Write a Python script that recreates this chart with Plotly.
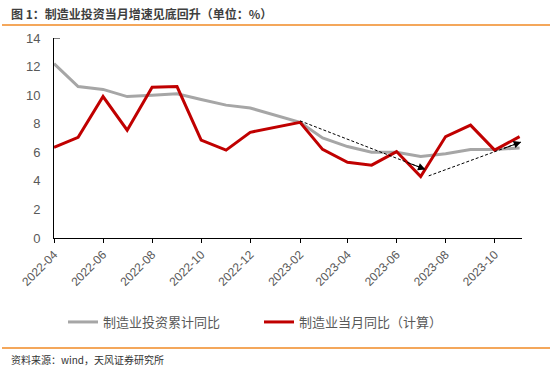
import plotly.graph_objects as go

months = ["2022-04", "2022-05", "2022-06", "2022-07", "2022-08", "2022-09",
          "2022-10", "2022-11", "2022-12", "2023-02", "2023-03", "2023-04",
          "2023-05", "2023-06", "2023-07", "2023-08", "2023-09", "2023-10", "2023-11"]
cum_yoy = [12.2, 10.6, 10.4, 9.9, 10.0, 10.1, 9.7, 9.3, 9.1, 8.1, 7.0, 6.4,
           6.0, 6.0, 5.7, 5.9, 6.2, 6.2, 6.3]
month_yoy = [6.35, 7.05, 9.9, 7.55, 10.55, 10.6, 6.85, 6.15, 7.4, 8.1, 6.2, 5.3,
             5.1, 6.05, 4.3, 7.1, 7.9, 6.15, 7.1]
name_cum = "制造业投资累计同比"
name_month = "制造业当月同比（计算）"
title_text = "图 1：制造业投资当月增速见底回升（单位：%）"
source_text = "资料来源：wind，天风证券研究所"

# trend arrows (start, end) in data coordinates
arrow_lines = [
    (("2023-02-01", 8.2), ("2023-07-07", 4.8)),
    (("2023-07-11", 4.35), ("2023-11-03", 6.72)),
]

W, H = 552, 368
L, R, T, B = 54, 30, 38, 130
PW, PH = W - L - R, H - T - B


def px(x):
    return (x - L) / PW


def py(y):
    return (H - B - y) / PH


fig = go.Figure()
fig.add_trace(go.Scatter(x=months, y=cum_yoy, mode="lines", name=name_cum,
                         line=dict(color="#A6A6A6", width=3)))
fig.add_trace(go.Scatter(x=months, y=month_yoy, mode="lines", name=name_month,
                         line=dict(color="#C00000", width=3)))

shapes = []
annotations = []
for (x0, y0), (x1, y1) in arrow_lines:
    shapes.append(dict(type="line", xref="x", yref="y", x0=x0, y0=y0, x1=x1, y1=y1,
                       line=dict(color="black", width=1, dash="3px,2px")))
# pixel direction of each arrow's tail (for arrowhead orientation)
dirs = [(-18.7, -7.1), (-18.8, 6.9)]
for ((x0, y0), (x1, y1)), (ax, ay) in zip(arrow_lines, dirs):
    annotations.append(dict(x=x1, y=y1, xref="x", yref="y", ax=ax, ay=ay,
                            showarrow=True, arrowhead=2, arrowsize=1.5,
                            arrowwidth=1, arrowcolor="black", text=""))

# orange rules
shapes.append(dict(type="line", xref="paper", yref="paper", x0=px(2), x1=px(550),
                   y0=py(25), y1=py(25), line=dict(color="#F08A24", width=1.5)))
shapes.append(dict(type="line", xref="paper", yref="paper", x0=px(2), x1=px(550),
                   y0=py(348), y1=py(348), line=dict(color="#F08A24", width=1.5)))
# top y tick
shapes.append(dict(type="line", xref="paper", yref="y", x0=0, x1=px(60), y0=14, y1=14,
                   line=dict(color="black", width=1)))

annotations.append(dict(text="<b>" + title_text + "</b>", xref="paper", yref="paper",
                        x=px(9), y=py(13), xanchor="left", yanchor="middle",
                        showarrow=False,
                        font=dict(size=12, color="#3F3F3F", family="Noto Sans CJK SC")))
annotations.append(dict(text=source_text, xref="paper", yref="paper",
                        x=px(9), y=py(359), xanchor="left", yanchor="middle",
                        showarrow=False,
                        font=dict(size=10, color="#333333", family="Noto Sans CJK SC")))

fig.update_layout(
    width=W, height=H,
    margin=dict(l=L, r=R, t=T, b=B),
    plot_bgcolor="white", paper_bgcolor="white",
    font=dict(family="Liberation Sans, Arial", color="#595959", size=12),
    shapes=shapes, annotations=annotations,
    legend=dict(orientation="h", x=px(63), y=py(322), xanchor="left", yanchor="middle",
                entrywidth=151, entrywidthmode="pixels",
                font=dict(size=13, color="#595959", family="Noto Sans CJK SC")),
    xaxis=dict(type="date", range=["2022-04-01", "2023-11-04"],
               tick0="2022-04-01", dtick="M2", tickformat="%Y-%m", tickangle=-45,
               showline=True, linecolor="black", linewidth=1, ticks="outside",
               ticklen=4, tickcolor="black", showgrid=False, zeroline=False,
               tickfont=dict(size=12, color="#595959")),
    yaxis=dict(range=[0, 14], dtick=2, showline=True, linecolor="black", linewidth=1,
               showgrid=False, zeroline=False, ticks="", ticklabelstandoff=10,
               tickfont=dict(size=13, color="#595959")),
)

fig.write_html("out.html", config={"displayModeBar": False},
               post_script="document.body.style.margin='0';")
